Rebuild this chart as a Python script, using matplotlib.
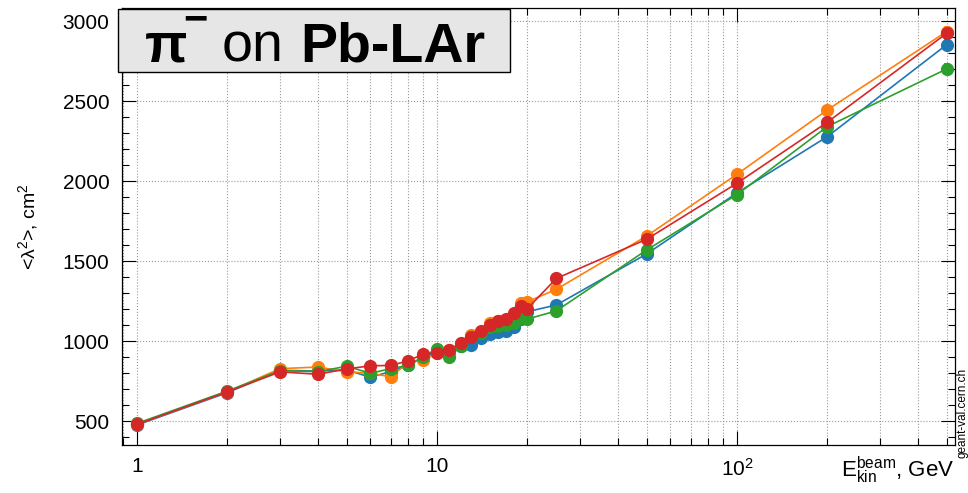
import matplotlib
matplotlib.use("Agg")
import matplotlib.pyplot as plt
from matplotlib.ticker import FixedLocator, LogLocator, FuncFormatter, MultipleLocator, NullFormatter
from matplotlib.patches import Rectangle

plt.rcParams["font.family"] = ["Liberation Sans", "DejaVu Sans"]
plt.rcParams["mathtext.fontset"] = "custom"
plt.rcParams["mathtext.rm"] = "Liberation Sans"
plt.rcParams["mathtext.it"] = "Liberation Sans:italic"
plt.rcParams["mathtext.bf"] = "Liberation Sans:bold"

# beam kinetic energy, GeV
energy = [1, 2, 3, 4, 5, 6, 7, 8, 9, 10, 11, 12, 13, 14, 15, 16, 17, 18, 19, 20,
          25, 50, 100, 200, 500]

# <lambda^2>, cm^2
lam2_blue = [478, 680, 820, 815, 822, 776, 812, 852, 900, 935, 935, 972, 978, 1020,
             1045, 1058, 1068, 1092, 1140, 1186, 1228, 1547, 1928, 2280, 2855]
lam2_orange = [483, 685, 830, 840, 811, 800, 780, 865, 885, 925, 945, 976, 1040, 1060,
               1115, 1130, 1135, 1170, 1240, 1248, 1326, 1659, 2045, 2447, 2937]
lam2_green = [488, 690, 818, 811, 845, 801, 830, 850, 905, 955, 905, 970, 1030, 1050,
              1090, 1096, 1103, 1117, 1146, 1140, 1191, 1572, 1918, 2343, 2703]
lam2_red = [482, 685, 810, 795, 828, 848, 850, 878, 922, 930, 948, 990, 1030, 1068,
            1100, 1130, 1140, 1176, 1221, 1205, 1394, 1639, 1989, 2370, 2926]

lam2_err = [6, 6, 6, 6, 6, 6, 6, 6, 6, 6, 6, 6, 6, 6, 6, 6, 6, 6, 6, 6,
            8, 15, 25, 25, 30]

series = [
    (lam2_blue, "#1f77b4"),
    (lam2_orange, "#ff7f0e"),
    (lam2_green, "#2ca02c"),
    (lam2_red, "#d62728"),
]

fig = plt.figure(figsize=(9.68, 4.93), dpi=100)
ax = fig.add_axes([0.126, 0.0974, 0.8606, 0.8864])

for vals, col in series:
    ax.errorbar(energy, vals, yerr=lam2_err, color=col, marker="o", ms=8.5,
                lw=1.2, elinewidth=1.2, capsize=2, capthick=1.2)

ax.set_xscale("log")
ax.set_xlim(0.891, 533)
ax.set_ylim(353, 3084)

ax.xaxis.set_major_locator(FixedLocator([1, 10, 100]))
ax.xaxis.set_major_formatter(FuncFormatter(
    lambda v, p: {1: "1", 10: "10", 100: r"$10^{2}$"}.get(int(round(v)), "")))
ax.xaxis.set_minor_locator(LogLocator(base=10, subs=range(2, 10)))
ax.xaxis.set_minor_formatter(NullFormatter())
ax.yaxis.set_major_locator(MultipleLocator(500))
ax.yaxis.set_minor_locator(MultipleLocator(100))

ax.tick_params(which="both", direction="in", top=True, right=True, labelsize=15,
               width=0.8)
ax.tick_params(which="major", length=10)
ax.tick_params(which="minor", length=5)
ax.tick_params(axis="x", pad=9)
ax.tick_params(axis="y", pad=9)

ax.grid(which="major", axis="both", ls=":", color="#999999", lw=0.8)
ax.grid(which="minor", axis="x", ls=":", color="#999999", lw=0.8)
for sp in ax.spines.values():
    sp.set_linewidth(0.9)

ax.set_ylabel(r"<λ$^{2}$>, cm$^{2}$", fontsize=14, labelpad=16)
fig.text(0.986, 0.015, r"E$^{\rm beam}_{\rm kin}$, GeV", fontsize=16,
         ha="right", va="bottom")
fig.text(0.994, 0.072, "geant-val.cern.ch", fontsize=8.5, rotation=90,
         ha="center", va="bottom")

# title box
fig.patches.append(Rectangle((118 / 968, 1 - 72 / 493), 392 / 968, 63 / 493,
                             transform=fig.transFigure, facecolor="#e6e6e6",
                             edgecolor="black", lw=1.0, zorder=5))
base_y = 1 - 62 / 493
fig.text(145 / 968, base_y, "π", fontsize=40, fontweight="bold",
         va="baseline", zorder=6)
fig.text(195 / 968, 1 - 31.5 / 493, "−", fontsize=30, fontweight="bold",
         ha="center", va="baseline", zorder=6)
fig.text(222 / 968, base_y, "on", fontsize=40, va="baseline", zorder=6)
fig.text(300 / 968, base_y, "Pb-LAr", fontsize=40, fontweight="bold",
         va="baseline", zorder=6)

fig.savefig("out.png", dpi=100)
